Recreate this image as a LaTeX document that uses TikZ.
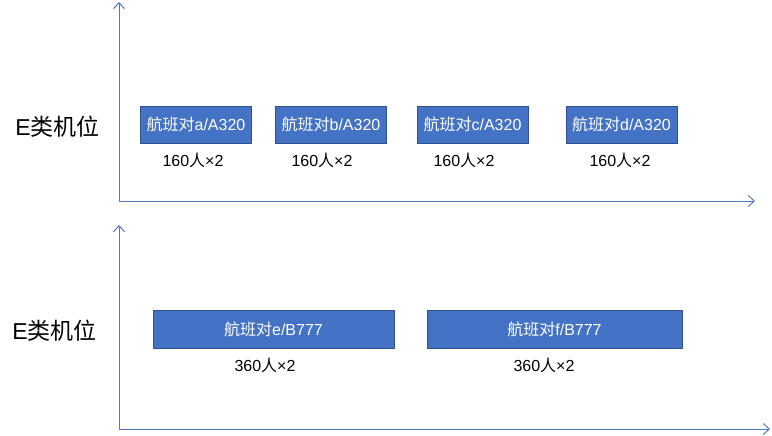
\documentclass[tikz,border=0pt]{standalone}
\usepackage{fontspec}
\setmainfont{Liberation Sans}
\newfontfamily\cjk{Noto Sans CJK SC}
\usetikzlibrary{arrows.meta}
\definecolor{boxfill}{HTML}{4472C4}
\definecolor{boxline}{HTML}{2F528F}
\definecolor{axisblue}{HTML}{4F78C0}
\tikzset{
  axisline/.style={draw=axisblue, line width=1pt, -{Straight Barb[length=6pt,width=11pt,line width=1pt]}},
  flight/.style={draw=boxline, line width=0.8pt, fill=boxfill, text=white, inner sep=0pt,
    minimum height=37pt, font=\fontsize{16}{18}\selectfont},
  pax/.style={inner sep=0pt, font=\fontsize{16}{18}\selectfont},
  stand/.style={inner sep=0pt, font=\fontsize{23}{26}\selectfont},
}
\begin{document}
\begin{tikzpicture}[x=1pt,y=-1pt]
\useasboundingbox[fill=white] (0,0) rectangle (772,436);
% axes
\coordinate (o1) at (119,201);
\coordinate (y1) at (119,2);
\coordinate (x1) at (755,201);
\coordinate (o2) at (119,429);
\coordinate (y2) at (119,225);
\coordinate (x2) at (770,429);
\draw[axisline] (o1) -- (y1);
\draw[axisline] (o1) -- (x1);
\draw[axisline] (o2) -- (y2);
\draw[axisline] (o2) -- (x2);
% stand labels
\node[stand] (s1) at (57.5,127) {E{\cjk 类机位}};
\node[stand] (s2) at (54.5,331) {E{\cjk 类机位}};
% top row flights
\node[flight, minimum width=111pt] (fa) at (196,124.5) {{\cjk 航班对}a/A320};
\node[flight, minimum width=111pt] (fb) at (331,124.5) {{\cjk 航班对}b/A320};
\node[flight, minimum width=111pt] (fc) at (472.5,124.5) {{\cjk 航班对}c/A320};
\node[flight, minimum width=111pt] (fd) at (621.5,124.5) {{\cjk 航班对}d/A320};
\node[pax] (pa) at (193,160) {160{\cjk 人}×2};
\node[pax] (pb) at (322,160) {160{\cjk 人}×2};
\node[pax] (pc) at (464,160) {160{\cjk 人}×2};
\node[pax] (pd) at (620,160) {160{\cjk 人}×2};
% bottom row flights
\node[flight, minimum width=241pt, minimum height=38pt] (fe) at (273.5,329) {{\cjk 航班对}e/B777};
\node[flight, minimum width=255pt, minimum height=38pt] (ff) at (554.5,329) {{\cjk 航班对}f/B777};
\node[pax] (pe) at (265,365) {360{\cjk 人}×2};
\node[pax] (pf) at (544,365) {360{\cjk 人}×2};
\end{tikzpicture}
\end{document}
